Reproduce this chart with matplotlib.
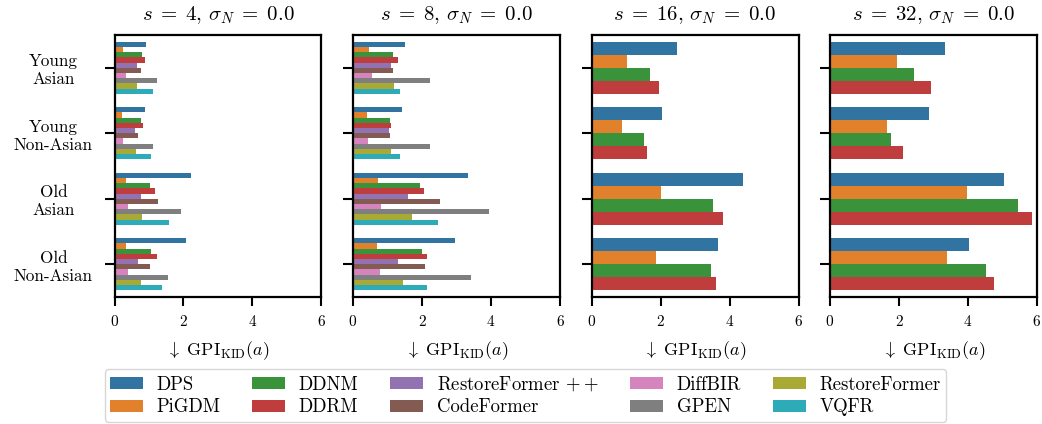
import colorsys

import numpy as np
import matplotlib
matplotlib.use("Agg")
import matplotlib.pyplot as plt
from matplotlib.colors import to_rgb
from matplotlib.patches import Patch

plt.rcParams["font.family"] = "cmr10"
plt.rcParams["mathtext.fontset"] = "cm"
plt.rcParams["axes.unicode_minus"] = False
plt.rcParams["axes.formatter.use_mathtext"] = True

groups = ["Young\nAsian", "Young\nNon-Asian", "Old\nAsian", "Old\nNon-Asian"]
methods = ["DPS", "PiGDM", "DDNM", "DDRM", r"RestoreFormer$\,+\!+$",
           "CodeFormer", "DiffBIR", "GPEN", "RestoreFormer", "VQFR"]
scales = [4, 8, 16, 32]

# GPI_KID per method (rows) and group (columns)
gpi_s4 = [
    [0.91, 0.88, 2.21, 2.06],
    [0.24, 0.21, 0.32, 0.32],
    [0.79, 0.76, 1.03, 1.06],
    [0.88, 0.82, 1.18, 1.24],
    [0.65, 0.59, 0.76, 0.68],
    [0.76, 0.68, 1.26, 1.03],
    [0.32, 0.26, 0.38, 0.38],
    [1.24, 1.12, 1.94, 1.56],
    [0.65, 0.62, 0.79, 0.76],
    [1.12, 1.06, 1.59, 1.38],
]
gpi_s8 = [
    [1.50, 1.41, 3.33, 2.95],
    [0.46, 0.40, 0.73, 0.70],
    [1.17, 1.08, 1.94, 2.00],
    [1.29, 1.11, 2.06, 2.15],
    [1.11, 1.05, 1.59, 1.29],
    [1.17, 1.08, 2.53, 2.09],
    [0.55, 0.43, 0.82, 0.79],
    [2.24, 2.24, 3.95, 3.42],
    [1.20, 1.11, 1.70, 1.44],
    [1.35, 1.35, 2.47, 2.15],
]
gpi_s16 = [
    [2.49, 2.05, 4.40, 3.67],
    [1.02, 0.87, 2.02, 1.87],
    [1.70, 1.52, 3.52, 3.46],
    [1.96, 1.61, 3.81, 3.61],
]
gpi_s32 = [
    [3.33, 2.88, 5.05, 4.04],
    [1.93, 1.66, 3.98, 3.39],
    [2.44, 1.78, 5.44, 4.51],
    [2.94, 2.11, 5.85, 4.75],
]
panels = [gpi_s4, gpi_s8, gpi_s16, gpi_s32]


def desaturate(c, prop=0.75):
    h, l, s = colorsys.rgb_to_hls(*to_rgb(c))
    return colorsys.hls_to_rgb(h, l, s * prop)


colors = [desaturate(c) for c in plt.get_cmap("tab10").colors]

fig = plt.figure(figsize=(10.42, 4.24), dpi=100)
W, H = 1042.0, 424.0
lefts = [114.5, 353, 591.5, 830]

for k, (s, data) in enumerate(zip(scales, panels)):
    ax = fig.add_axes([lefts[k] / W, 1 - 297 / H, 207 / W, 262 / H])
    data = np.array(data)
    n = len(data)
    h = 0.8 / n
    ypos = np.arange(len(groups))
    for i in range(n):
        ax.barh(ypos - 0.4 + (i + 0.5) * h, data[i], height=h,
                color=colors[i], linewidth=0)
    ax.set_xlim(0, 6)
    ax.set_ylim(3.5, -0.5)
    ax.set_xticks([0, 2, 4, 6])
    ax.set_yticks(ypos)
    if k == 0:
        ax.set_yticklabels(groups, ha="center", multialignment="center",
                           fontsize=12.3)
    else:
        ax.set_yticklabels([])
    ax.tick_params(axis="x", labelsize=11, length=6.5, width=1.5, pad=6)
    ax.tick_params(axis="y", length=7, width=1.5, pad=37)
    for sp in ax.spines.values():
        sp.set_linewidth(1.6)
    ax.set_title(r"$s\;=\;%d,\,\sigma_N\;=\;0.0$" % s, fontsize=15, pad=11)
    ax.set_xlabel(r"$\downarrow\ \mathrm{GPI}_{\mathrm{KID}}(a)$",
                  fontsize=13, labelpad=7)

handles = [Patch(facecolor=c, linewidth=0) for c in colors]
fig.legend(handles, methods, loc="lower center", ncol=5,
           bbox_to_anchor=(0.5043, 0.005), borderaxespad=0, fontsize=13.5,
           handlelength=1.75, handleheight=0.62, handletextpad=0.72,
           columnspacing=1.7, borderpad=0.3, labelspacing=0.25,
           framealpha=0.8, edgecolor="0.8")

fig.savefig("out.png", dpi=100)
